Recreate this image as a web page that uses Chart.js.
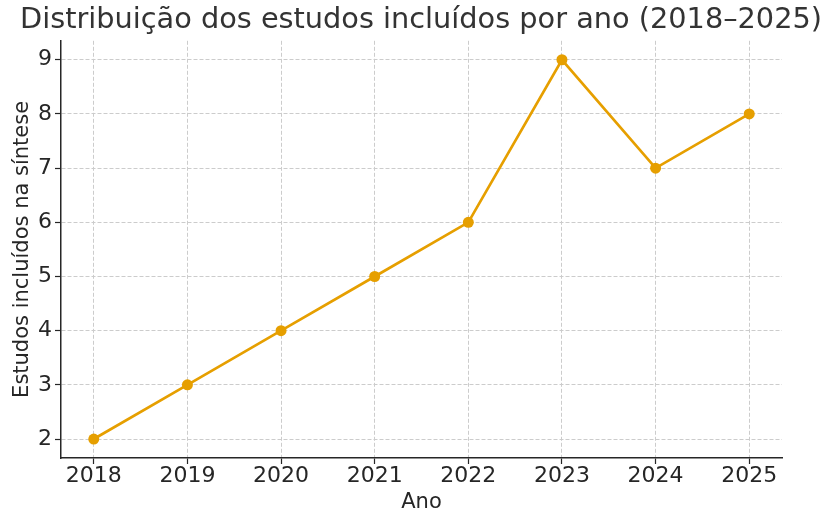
<!DOCTYPE html>
<html><head><meta charset="utf-8">
<script src="https://cdn.jsdelivr.net/npm/chart.js@4"></script>
<style>html,body{margin:0;padding:0;background:#fff}#w{width:822px;height:515px}</style>
</head><body><div id="w"><canvas id="c"></canvas></div>
<script>
const years = [2018, 2019, 2020, 2021, 2022, 2023, 2024, 2025];
const studies = [2, 3, 4, 5, 6, 9, 7, 8];
const titleText = 'Distribuição dos estudos incluídos por ano (2018–2025)';
const xTitle = 'Ano';
const yTitle = 'Estudos incluídos na síntese';

const FONT = 'DejaVu Sans';
const TXT = '#262626';
Chart.defaults.font.family = FONT;
Chart.defaults.color = TXT;

new Chart(document.getElementById('c'), {
  type: 'line',
  data: {
    datasets: [{
      data: years.map((y, i) => ({x: y, y: studies[i]})),
      borderColor: '#E69F00',
      backgroundColor: '#E69F00',
      borderWidth: 2.7,
      pointRadius: 5.5,
      pointHoverRadius: 5.5,
      pointBorderWidth: 0,
      tension: 0
    }]
  },
  options: {
    responsive: true,
    maintainAspectRatio: false,
    animation: false,
    layout: {padding: {left: 20, right: 0, top: 3, bottom: 0}},
    plugins: {
      legend: {display: false},
      tooltip: {enabled: false},
      title: {display: true, text: titleText, color: '#333', font: {size: 29, weight: 'normal', lineHeight: 1.2}, padding: {top: 0, bottom: 3}}
    },
    scales: {
      x: {
        type: 'linear', min: 2017.65, max: 2025.35,
        afterFit: s => { s.height = 57; },
        ticks: {stepSize: 1, includeBounds: false, callback: v => String(v), font: {size: 22}, color: TXT, padding: -1, maxRotation: 0},
        grid: {color: '#cccccc', lineWidth: 1, tickColor: '#262626', tickLength: 6, tickWidth: 1.2},
        border: {display: true, color: '#262626', width: 1.5, dash: [4, 2]},
        title: {display: true, text: xTitle, font: {size: 21}, color: TXT, padding: {top: 0, bottom: 0}}
      },
      y: {
        type: 'linear', min: 1.65, max: 9.35,
        afterFit: s => { s.width = 41; },
        ticks: {stepSize: 1, includeBounds: false, font: {size: 22}, color: TXT, padding: 3},
        grid: {color: '#cccccc', lineWidth: 1, tickColor: '#262626', tickLength: 6, tickWidth: 1.2},
        border: {display: true, color: '#262626', width: 1.5, dash: [4, 2]},
        title: {display: true, text: yTitle, font: {size: 21}, color: TXT, padding: {top: -10, bottom: 2}}
      },
      yRight: {
        type: 'linear', position: 'right', display: true, min: 1.65, max: 9.35,
        afterFit: s => { s.width = 40; },
        ticks: {display: false},
        grid: {display: false, drawOnChartArea: false},
        border: {display: false}
      }
    }
  }
});
</script></body></html>
